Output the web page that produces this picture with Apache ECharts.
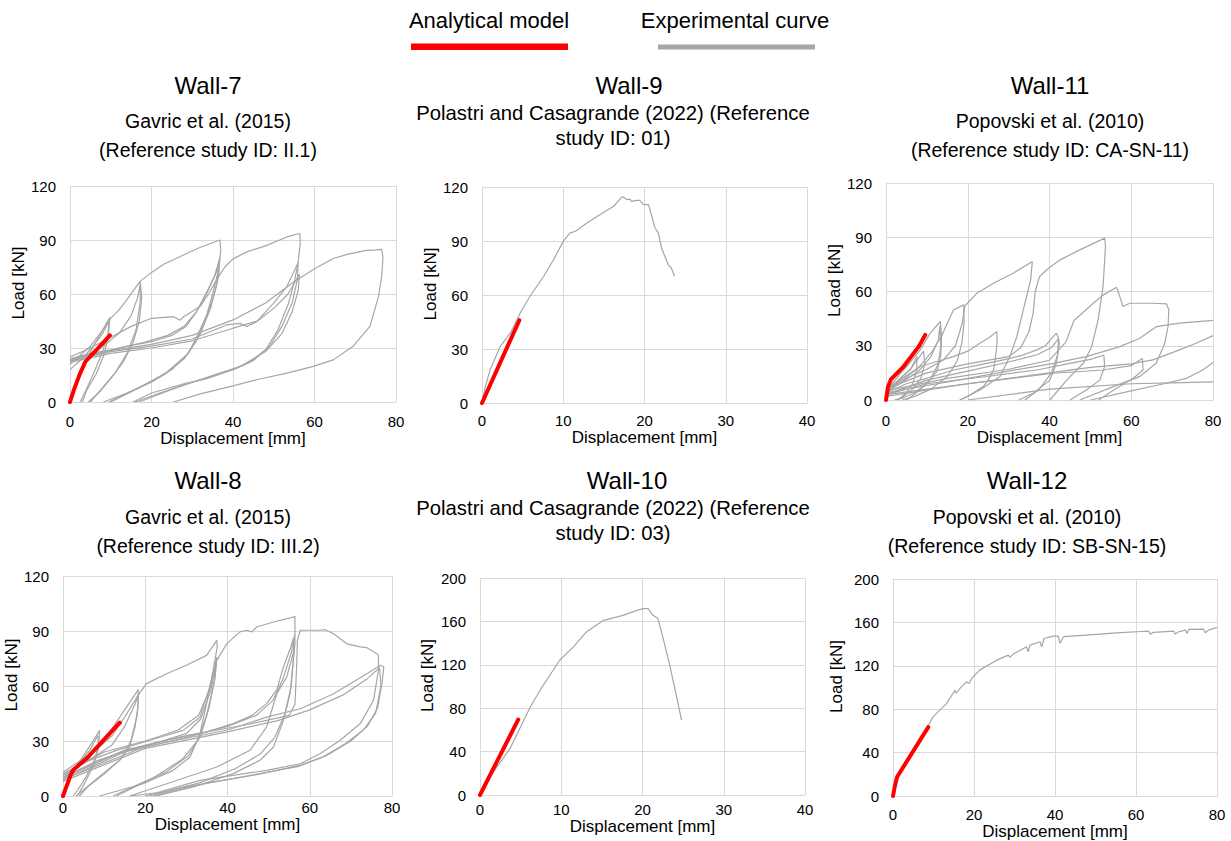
<!DOCTYPE html>
<html>
<head>
<meta charset="utf-8">
<script src="https://cdn.jsdelivr.net/npm/echarts@6/dist/echarts.min.js"></script>
<style>
html, body { margin: 0; padding: 0; background: #fff; }
#chart { width: 1231px; height: 841px; }
</style>
</head>
<body>
<div id="chart"></div>
<script>
// 荷载-位移曲线对比：解析模型（红）与试验曲线（灰）

// ---------- Wall-7 ----------
const wall7Model = [[0, 0], [1, 7], [2.4, 15.5], [3.8, 22.5], [6.5, 29], [9.8, 37]];
const wall7LoopA = [[0, 0], [1.5, 10], [3, 19], [5, 28], [7, 36], [9.8, 47], [9.3, 38], [8, 28], [6, 17], [4, 7], [2.5, 0]];
const wall7LoopB = [[0, 18], [3, 24], [6, 32], [8, 38], [9.8, 46], [12, 51], [14, 57], [17.2, 67], [17.6, 58], [17, 45], [15.5, 33], [13, 22], [10, 13], [7, 5], [4.5, 0]];
const wall7LoopC = [[0, 23], [4, 26], [8, 31], [12, 38], [15, 48], [16.6, 58], [17.3, 66], [17.2, 55], [16.2, 40], [14, 27], [11, 16], [8, 8], [5, 0]];
const wall7LoopD = [[0, 21], [2, 25], [5, 31], [8, 40], [9.7, 45], [9.4, 36], [8.3, 26], [6.5, 16], [4, 6], [3, 0]];
const wall7LoopE = [[17.2, 67], [20, 72], [23, 76.5], [25.4, 79], [28.6, 82.5], [32, 86], [35, 88.5], [36.8, 90], [37, 84], [36.3, 72], [35, 60], [33.5, 48], [31.5, 38], [29, 27], [25, 18], [20, 11], [14, 5], [8.2, 0]];
const wall7LoopF = [[0, 24], [5, 27], [10, 29], [15, 31.5], [20, 33.5], [25, 37], [28.5, 42], [31, 50], [33.5, 60], [35.5, 70], [36.8, 80.5], [36.5, 70], [35, 57], [33, 44], [31, 34], [28, 24], [23, 15], [16, 7], [9.5, 0]];
const wall7LoopG = [[0, 22.5], [6, 26], [12, 30], [18, 33], [24, 37], [28, 42], [31, 50], [34, 63], [36.5, 75], [36, 65], [34.5, 52], [32, 38], [29, 27], [24, 17], [18, 9], [10, 0]];
const wall7LoopH = [[0, 25], [5, 30], [10, 36], [15, 42], [20, 46.5], [25.4, 47.4], [27, 45.5], [28, 47.5], [31.9, 53], [34, 60], [36, 68], [38, 75], [40, 79.5], [43.4, 83.4], [48.3, 87], [53.2, 91.7], [56.4, 93.6], [56.5, 88], [56, 78], [55, 66], [53.5, 54], [51, 40], [48, 29], [44, 22], [40, 17.9], [33, 12.5], [28.6, 10.5], [20, 5], [15.5, 0]];
const wall7LoopI = [[0, 23], [10, 28], [20, 31], [30, 35], [38.4, 42.8], [41.7, 43.7], [43.4, 41.9], [45.8, 44.6], [49.9, 54.8], [53.2, 64], [56, 77.5], [55.8, 68], [54.5, 55], [52, 42], [49, 31], [45, 23], [40, 18], [30, 11], [22, 5], [16, 0]];
const wall7LoopJ = [[0, 22], [10, 27], [20, 30], [30, 34], [40, 41], [46, 45], [50, 52], [53.5, 60], [56.3, 71], [56, 62], [54.5, 50], [52, 38], [48, 28], [42, 20], [34, 14], [25, 7], [17, 0]];
const wall7LoopK = [[0, 24], [10, 28.5], [20, 32], [30, 37], [40, 45.6], [48, 55], [54.8, 66.5], [60, 74], [64.6, 79.7], [68, 82], [72.8, 84.2], [75, 84.5], [76.5, 84.8], [76.8, 80], [76.5, 70], [75.7, 58.5], [73.6, 42], [69.5, 31], [64.6, 23.4], [59.7, 19.8], [53.2, 16], [46, 12.5], [40, 9], [32, 4.5], [25.4, 0]];
const wall7Exp = [wall7LoopA, wall7LoopB, wall7LoopC, wall7LoopD, wall7LoopE, wall7LoopF, wall7LoopG, wall7LoopH, wall7LoopI, wall7LoopJ, wall7LoopK];

// ---------- Wall-9 ----------
const wall9Model = [[0, 0], [4.6, 46]];
const wall9Curve = [[0, 0], [0.4, 9], [1, 18.5], [2.25, 31.5], [3.5, 38.9], [4.7, 50], [5.9, 59.3], [7.6, 70.4], [8.8, 79.6], [10, 89.8], [10.8, 94.4], [11.5, 95.4], [12.9, 100], [14.5, 104.6], [16.2, 109.3], [17.2, 114.4], [17.4, 114.4], [17.8, 113], [18.2, 113.3], [18.4, 112], [19, 112.6], [19.4, 112.6], [19.9, 110.2], [20.5, 110.2], [20.9, 103.7], [21.3, 97.2], [21.7, 94.4], [22.1, 86], [22.5, 81.5], [22.9, 76.9], [23.3, 75], [23.7, 70.4]];
const wall9Exp = [wall9Curve];

// ---------- Wall-11 ----------
const wall11Model = [[0, 0], [0.5, 7.4], [1.2, 11.4], [4.3, 18.5], [8, 29.5], [9.6, 36]];
const wall11LoopA = [[0, 0], [0.8, 6], [1.5, 9], [3, 13], [4.3, 16.6], [6, 21], [8.4, 27.7], [10.8, 37], [13.3, 43.4], [13.6, 35], [13.4, 25], [12.5, 16], [10, 9], [7, 4], [4, 1], [2, 0]];
const wall11LoopB = [[0, 3], [2, 8], [4, 13], [6, 17], [7.6, 24], [7.5, 16], [6.5, 9], [5, 4], [3, 0]];
const wall11LoopC = [[0, 5], [3, 11], [6, 17], [9.2, 27], [9.5, 20], [8.5, 12], [6.5, 6], [4, 1.5], [2.5, 0]];
const wall11LoopD = [[0, 6], [4, 12], [8, 18], [11, 26], [13.5, 35], [16.5, 49.8], [19, 52.6], [19.1, 43], [18.6, 32], [17.5, 22], [15, 13], [11, 6], [7, 2], [4, 0]];
const wall11LoopE = [[0, 4], [4, 10], [8, 16], [11, 24], [12.8, 33], [13.2, 41], [13.4, 30], [12.8, 20], [11, 12], [8, 5], [5, 0]];
const wall11LoopF = [[0, 5], [4, 11], [8.4, 18.5], [12, 21], [16.5, 24], [20, 27], [23, 31.4], [25.5, 35], [27.1, 37.8], [27.2, 32], [26.8, 24], [26.3, 16.6], [25, 11], [23.8, 7.4], [20, 2], [18, 0]];
const wall11LoopG = [[0, 6], [5, 12], [10, 17], [14, 22], [17, 30], [18.6, 42], [19.3, 52], [22.2, 59], [26.3, 64.6], [31.2, 70.2], [35.8, 76.6], [35.4, 66.5], [33.6, 50], [32, 35], [30.3, 24], [27.9, 13], [23, 5.5], [18.1, 0]];
const wall11LoopH = [[0, 4], [5, 9], [10, 12], [16.5, 16.6], [22, 19], [28.7, 22.2], [33, 24.5], [36.9, 27.7], [39, 30], [40.9, 35], [41.7, 36.9], [42.2, 34.2], [42.4, 31.4], [41.7, 20.3], [40.1, 11], [36, 3.7], [32.5, 0]];
const wall11LoopI = [[0, 3], [10, 11], [20, 16], [30, 21], [37, 25], [40.5, 29], [42.2, 34], [42, 25], [40.5, 15], [37.5, 6], [34, 0]];
const wall11LoopJ = [[0, 6], [10, 15], [20, 20], [30, 24], [33, 29], [35, 38], [36, 48], [36.5, 60], [37.5, 68], [39.3, 72], [42.6, 77.5], [47.4, 83], [53.5, 89.5], [53.7, 85], [53.1, 62.8], [51.9, 44.3], [50.3, 29.5], [48.3, 20.3], [44.2, 11], [40.1, 0]];
const wall11LoopK = [[0, 3], [10, 9], [24.7, 13], [36.9, 16.6], [45, 20.3], [50, 22.5], [53.3, 24.9], [53.5, 18.5], [52.3, 11], [49, 5.5], [45, 0]];
const wall11LoopL = [[0, 5], [15, 12], [30, 17], [40, 22], [44, 32], [46, 44], [50.7, 53.5], [53.1, 58], [56.4, 62.4], [57.2, 57.2], [58, 51.7], [59.6, 53.5], [62.1, 53.5], [65.3, 53.5], [68.6, 53.2], [69.2, 49.8], [69, 40.6], [68.2, 31.4], [66.1, 20.3], [62, 12.9], [55.6, 7.4], [47.4, 0]];
const wall11LoopM = [[0, 2], [20, 9], [40.9, 14.8], [53.1, 16.6], [60, 19], [62.7, 23], [62.9, 16.6], [60.5, 12], [56, 6], [52, 0]];
const wall11LoopN = [[0, 4], [20, 12], [40.9, 20.3], [49, 24], [57.2, 29.5], [62, 34], [66.2, 40.6], [71.8, 42.5], [80, 44]];
const wall11LoopO = [[0, 3], [30, 12], [50, 18], [60, 20], [65.3, 22.2], [71.8, 27.7], [76, 31.5], [80, 35.6]];
const wall11LoopP = [[50, 0], [60, 5], [68, 9], [73.5, 12], [77.5, 16.6], [80, 20.7]];
const wall11LoopQ = [[20, 0], [40, 6], [60, 9], [70, 9.5], [80, 10]];
const wall11Exp = [wall11LoopA, wall11LoopB, wall11LoopC, wall11LoopD, wall11LoopE, wall11LoopF, wall11LoopG, wall11LoopH, wall11LoopI, wall11LoopJ, wall11LoopK, wall11LoopL, wall11LoopM, wall11LoopN, wall11LoopO, wall11LoopP, wall11LoopQ];

// ---------- Wall-8 ----------
const wall8Model = [[0, 0], [0.8, 5], [2, 12.2], [2.6, 14.4], [5.7, 20.4], [13.8, 40]];
const wall8LoopA = [[0, 0], [1, 7], [2.5, 14], [5, 22], [7, 29], [8.9, 35.8], [8.7, 28], [7.5, 19], [5.5, 10], [3.5, 3], [2.5, 0]];
const wall8LoopB = [[0, 8], [2, 13], [4, 18], [6.5, 25], [8.5, 33], [8.6, 26], [7.5, 17], [5.5, 8], [3.5, 0]];
const wall8LoopC = [[0, 10], [3, 15], [6, 21], [9, 28], [12, 37], [15, 47], [18.3, 58], [18.2, 48], [17.5, 37.6], [16.2, 26.7], [13.8, 19.5], [9.7, 12.2], [4.9, 3.1], [3.2, 0]];
const wall8LoopD = [[0, 12], [4, 17], [8, 22], [12, 28], [15, 38], [17.5, 50], [18.4, 56], [18, 44], [16.5, 30], [14, 20], [10, 12], [6, 5], [4, 0]];
const wall8LoopE = [[0, 13], [4, 19], [8, 25], [12, 33], [15, 43], [18.3, 55], [20.3, 61.3], [25.2, 66.7], [30, 71.3], [34.9, 76.7], [37.4, 84.9], [37.5, 81.3], [36.5, 68.5], [34.9, 50.4], [33.3, 34], [30.9, 21.3], [26.8, 14], [19.5, 6.7], [8.9, 0]];
const wall8LoopF = [[0, 11], [6, 19], [13, 24.9], [21.1, 30.4], [29.2, 35.8], [33.3, 43], [35.7, 59.5], [37.4, 75.8], [37, 65], [35.5, 48], [33.5, 33], [30.5, 22], [25, 13], [17, 5], [12.2, 0]];
const wall8LoopG = [[0, 10], [8, 19], [16, 25], [24, 30], [30, 34], [33.5, 42], [36, 58], [37.3, 73], [36.8, 62], [35, 45], [33, 31], [29, 20], [22, 10], [13, 0]];
const wall8LoopH = [[0, 12], [10, 24], [20, 30], [28, 36], [33, 44], [36, 60], [37.4, 74], [39.8, 83], [43, 89.5], [44.7, 90.4], [45.9, 89.5], [47.1, 92.2], [51.2, 94.9], [56, 97.6], [56.4, 98], [56.4, 83], [55.2, 55.8], [53.6, 41.3], [51.2, 26.7], [47.9, 19.5], [41.4, 12.2], [31.7, 4.9], [22.7, 0]];
const wall8LoopI = [[0, 10], [13, 23], [25.2, 30.4], [35, 35], [41.4, 39.5], [46, 44], [49.5, 50.4], [52, 58], [53.6, 70.4], [55.2, 80], [56, 86], [56.2, 80], [55.5, 60], [54, 45], [51.5, 32], [48, 23], [42, 15], [33, 7], [24, 2], [16.2, 0]];
const wall8LoopJ = [[0, 9], [15, 24], [30, 32], [40, 38], [47, 44], [51, 52], [53.5, 64], [55.5, 78], [56.3, 88], [56, 78], [54.4, 65], [52, 55.8], [49.5, 37.6], [45.5, 25], [37.4, 15.8], [25.2, 6.7], [16.2, 0]];
const wall8LoopK = [[0, 10], [15, 25], [30, 33], [45, 39], [55, 44], [56.4, 50], [56.8, 70], [57, 85], [57.7, 90.4], [60, 90.4], [62.5, 90.4], [63.8, 90.7], [65.8, 88.5], [69, 83], [72.3, 81.3], [73.9, 80.9], [76.3, 77.6], [76.7, 76.7], [76.7, 68.5], [75.5, 52.2], [72.3, 39.5], [67.4, 30.4], [62.5, 23], [57.7, 17.6], [49.5, 14], [33.3, 8.5], [20, 0]];
const wall8LoopL = [[0, 9], [20, 27], [40, 36], [49.5, 43], [57.7, 47.6], [65.8, 55.8], [73.9, 66.7], [77.2, 71.3], [78, 70.4], [77.6, 62], [76.5, 48], [74, 38], [70, 30], [64, 22], [58, 17], [48, 12], [35, 7], [22, 0]];
const wall8LoopM = [[0, 8], [20, 26], [40, 35], [52, 41], [60, 47], [68, 55], [74, 64], [77, 70], [77.3, 60], [76, 45], [73, 36], [69, 29], [63, 21], [57, 16], [45, 11], [30, 5], [21, 0]];
const wall8Exp = [wall8LoopA, wall8LoopB, wall8LoopC, wall8LoopD, wall8LoopE, wall8LoopF, wall8LoopG, wall8LoopH, wall8LoopI, wall8LoopJ, wall8LoopK, wall8LoopL, wall8LoopM];

// ---------- Wall-10 ----------
const wall10Model = [[0, 0], [4.7, 69.5]];
const wall10Curve = [[0, 0], [0.8, 12], [1.2, 16.9], [2.5, 30], [3.7, 42.9], [4.9, 61.3], [6.2, 81.3], [7.4, 96.6], [8.6, 110.4], [9.8, 124.2], [11.5, 136.5], [13.1, 150.3], [15.2, 161], [17.6, 165.6], [19.3, 170.2], [20.1, 171.8], [20.7, 171.8], [21.3, 165.6], [21.9, 162.6], [22.6, 142.6], [23.4, 118], [24.2, 90.5], [24.8, 69]];
const wall10Exp = [wall10Curve];

// ---------- Wall-12 ----------
const wall12Model = [[0, 0], [0.4, 8], [1, 17.5], [8.7, 63.5]];
const wall12Curve = [[0, 0], [0.4, 8], [1.6, 20.6], [3.3, 32.9], [6.6, 51.4], [9.9, 72.9], [13.2, 85.2], [15.3, 97.5], [15.5, 94.5], [16.5, 99], [18.1, 105.2], [18.8, 103.7], [19.4, 108.3], [21.4, 116], [25.6, 125.2], [28.5, 129.8], [28.9, 127.7], [29.7, 130.8], [33, 137.5], [33.4, 132.9], [33.8, 139], [36.3, 142.2], [36.7, 137.5], [37.3, 145.2], [39.6, 147.4], [40.8, 147.4], [41.2, 140.6], [42.1, 146.8], [47.8, 148.3], [56.1, 150.5], [60.2, 151.4], [63.1, 152], [63.5, 149.2], [64.3, 150.8], [69.3, 152], [69.7, 149.2], [70.5, 151.4], [72.2, 152.9], [72.6, 149.8], [73, 153.5], [76.7, 153.8], [77.1, 150.5], [77.9, 152.9], [80, 155.4]];
const wall12Exp = [wall12Curve];

// ---------- 版式 ----------
const FONT = "'Liberation Sans', Arial, sans-serif";
const RED = '#ff0000';
const GREY = '#a6a6a6';
const GRIDLINE = '#d9d9d9';

// tx/ty：标题中心与顶部；sx/sy/ss/sl：副标题中心、顶部、字号、行高
const panels = [
    { name: 'Wall-7', sub: 'Gavric et al. (2015)\n(Reference study ID: II.1)',
      tx: 208, ty: 71, sx: 208, sy: 106, ss: 19.5, sl: 29,
      grid: { left: 70, top: 186, width: 326, height: 216 }, xMax: 80, xStep: 20, yMax: 120, yStep: 30,
      xMargin: 12, xNameGap: 26, yNameGap: 41, exp: wall7Exp, model: wall7Model },
    { name: 'Wall-9', sub: 'Polastri and Casagrande (2022) (Reference\nstudy ID: 01)',
      tx: 629, ty: 71, sx: 613, sy: 100, ss: 20.3, sl: 25.5,
      grid: { left: 482, top: 187, width: 325, height: 216 }, xMax: 40, xStep: 10, yMax: 120, yStep: 30,
      xMargin: 10, xNameGap: 24, yNameGap: 43, exp: wall9Exp, model: wall9Model },
    { name: 'Wall-11', sub: 'Popovski et al. (2010)\n(Reference study ID: CA-SN-11)',
      tx: 1050, ty: 71, sx: 1050, sy: 106, ss: 19.5, sl: 29,
      grid: { left: 886, top: 183, width: 327, height: 217 }, xMax: 80, xStep: 20, yMax: 120, yStep: 30,
      xMargin: 13, xNameGap: 27, yNameGap: 39, exp: wall11Exp, model: wall11Model },
    { name: 'Wall-8', sub: 'Gavric et al. (2015)\n(Reference study ID: III.2)',
      tx: 208, ty: 466, sx: 208, sy: 502, ss: 19.5, sl: 29,
      grid: { left: 63, top: 576, width: 329, height: 220 }, xMax: 80, xStep: 20, yMax: 120, yStep: 30,
      xMargin: 4, xNameGap: 19, yNameGap: 36, exp: wall8Exp, model: wall8Model },
    { name: 'Wall-10', sub: 'Polastri and Casagrande (2022) (Reference\nstudy ID: 03)',
      tx: 627, ty: 466, sx: 613, sy: 495, ss: 20.3, sl: 25.5,
      grid: { left: 480, top: 578, width: 325, height: 217 }, xMax: 40, xStep: 10, yMax: 200, yStep: 40,
      xMargin: 7, xNameGap: 23, yNameGap: 44, exp: wall10Exp, model: wall10Model },
    { name: 'Wall-12', sub: 'Popovski et al. (2010)\n(Reference study ID: SB-SN-15)',
      tx: 1027, ty: 466, sx: 1027, sy: 502, ss: 19.5, sl: 29,
      grid: { left: 893, top: 579, width: 324, height: 217 }, xMax: 80, xStep: 20, yMax: 200, yStep: 40,
      xMargin: 11, xNameGap: 24, yNameGap: 48, exp: wall12Exp, model: wall12Model }
];

const dom = document.getElementById('chart');
const chart = echarts.init(dom, null, { renderer: 'svg' });

const titles = [], grids = [], xAxes = [], yAxes = [], series = [];

panels.forEach(function (p, i) {
    titles.push({
        text: p.name, left: p.tx, top: p.ty, textAlign: 'center', padding: 0,
        textStyle: { fontFamily: FONT, fontSize: 24, fontWeight: 'normal', color: '#000', lineHeight: 28 }
    });
    titles.push({
        text: p.sub, left: p.sx, top: p.sy, textAlign: 'center', padding: 0,
        textStyle: { fontFamily: FONT, fontSize: p.ss, fontWeight: 'normal', color: '#000', lineHeight: p.sl }
    });
    grids.push(Object.assign({ containLabel: false }, p.grid));
    xAxes.push({
        type: 'value', gridIndex: i, min: 0, max: p.xMax, interval: p.xStep,
        name: 'Displacement [mm]', nameLocation: 'middle', nameGap: p.xNameGap,
        nameTextStyle: { fontFamily: FONT, fontSize: 17, color: '#000' },
        axisLine: { show: true, lineStyle: { color: GRIDLINE } },
        axisTick: { show: false },
        axisLabel: { fontFamily: FONT, fontSize: 15, color: '#000', margin: p.xMargin },
        splitLine: { show: true, lineStyle: { color: GRIDLINE, width: 1 } }
    });
    yAxes.push({
        type: 'value', gridIndex: i, min: 0, max: p.yMax, interval: p.yStep,
        name: 'Load [kN]', nameLocation: 'middle', nameGap: p.yNameGap, nameRotate: 90,
        nameTextStyle: { fontFamily: FONT, fontSize: 17, color: '#000', padding: [0, 0, 0, 22] },
        axisLine: { show: true, lineStyle: { color: GRIDLINE } },
        axisTick: { show: false },
        axisLabel: { fontFamily: FONT, fontSize: 15, color: '#000', margin: 14 },
        splitLine: { show: true, lineStyle: { color: GRIDLINE, width: 1 } }
    });
    p.exp.forEach(function (branch) {
        series.push({
            type: 'line', xAxisIndex: i, yAxisIndex: i, data: branch, symbol: 'none',
            lineStyle: { color: GREY, width: 1.2 }, silent: true, z: 2
        });
    });
    series.push({
        type: 'line', xAxisIndex: i, yAxisIndex: i, data: p.model, symbol: 'none',
        lineStyle: { color: RED, width: 4, cap: 'round' }, silent: true, z: 3
    });
});

const option = {
    animation: false,
    backgroundColor: '#fff',
    title: titles,
    grid: grids,
    xAxis: xAxes,
    yAxis: yAxes,
    series: series,
    // 图例：文字在上，线条在下
    graphic: [
        { type: 'text', x: 489, y: 20, style: { text: 'Analytical model', align: 'center', verticalAlign: 'middle', fontFamily: FONT, fontSize: 22, fill: '#000' } },
        { type: 'rect', shape: { x: 411, y: 43.5, width: 157, height: 6.5 }, style: { fill: RED } },
        { type: 'text', x: 735, y: 20, style: { text: 'Experimental curve', align: 'center', verticalAlign: 'middle', fontFamily: FONT, fontSize: 22, fill: '#000' } },
        { type: 'rect', shape: { x: 658, y: 44.5, width: 157, height: 5 }, style: { fill: GREY } }
    ]
};

chart.setOption(option);
</script>
</body>
</html>
